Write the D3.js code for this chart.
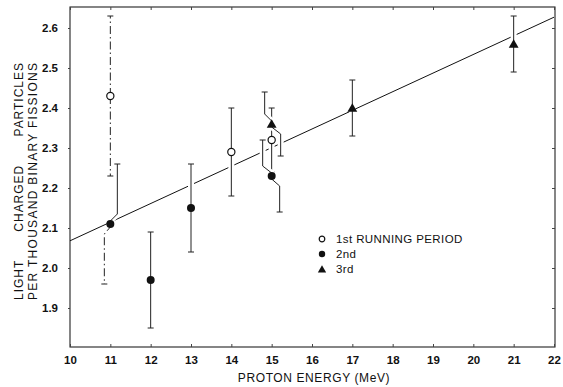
<!DOCTYPE html>
<html>
<head>
<meta charset="utf-8">
<script src="https://cdn.jsdelivr.net/npm/d3@7/dist/d3.min.js"></script>
<style>
  html, body { margin: 0; padding: 0; background: #fff; }
  text { font-family: "Liberation Sans", Arial, sans-serif; fill: #111; }
</style>
</head>
<body>
<div id="chart"></div>
<script>
// x ticks / y ticks
const energyTicks = [10, 11, 12, 13, 14, 15, 16, 17, 18, 19, 20, 21, 22];
const yieldTicks = [1.9, 2.0, 2.1, 2.2, 2.3, 2.4, 2.5, 2.6];

// 1st running period (open circles)
const energy1 = [11, 14, 15];
const yield1 = [2.43, 2.29, 2.32];
const error1 = [0.20, 0.11, 0.08];

// 2nd (filled circles)
const energy2 = [11, 12, 13, 15];
const yield2 = [2.11, 1.97, 2.15, 2.23];
const error2 = [0.15, 0.12, 0.11, 0.09];

// 3rd (triangles)
const energy3 = [15, 17, 21];
const yield3 = [2.36, 2.40, 2.56];
const error3 = [0.08, 0.07, 0.07];

// fitted line
const fitEnergy = [10, 22];
const fitYield = [2.068, 2.627];

const legendLabels = ['1st RUNNING PERIOD', '2nd', '3rd'];

// ---- layout (pixel jogs of the displaced error bars, dash styles) ----
const jogs = {
  '1-0': { up: 0, down: 0, dash: true },
  '2-0': { up: 7, down: -6, dashDown: true },
  '2-3': { up: -9, down: 8 },
  '3-0': { up: -7, down: 9 }
};

const width = 563, height = 387;
const svg = d3.select('#chart').append('svg')
  .attr('width', width)
  .attr('height', height);

const x = d3.scaleLinear().domain([10, 22]).range([70, 554]);
const y = d3.scaleLinear().domain([1.8, 2.6]).range([348, 28]);
const frame = { top: 7, bottom: 347, left: 70, right: 555 };

// frame
svg.append('rect')
  .attr('x', frame.left).attr('y', frame.top)
  .attr('width', frame.right - frame.left).attr('height', frame.bottom - frame.top)
  .attr('fill', 'none').attr('stroke', '#222').attr('stroke-width', 1.1);

// bottom axis labels
const xAxis = svg.append('g')
  .attr('transform', `translate(0, ${frame.bottom})`)
  .call(d3.axisBottom(x).tickValues(energyTicks).tickSize(-3).tickPadding(9).tickFormat(d3.format('d')));
xAxis.select('.domain').remove();
xAxis.selectAll('text').attr('font-size', 11.5).attr('font-weight', 'bold').attr('fill', '#111');
xAxis.selectAll('line').attr('stroke', '#444');

// top ticks
svg.append('g')
  .attr('transform', `translate(0, ${frame.top})`)
  .call(d3.axisTop(x).tickValues(energyTicks).tickSize(-3).tickFormat(''))
  .call(g => g.select('.domain').remove())
  .selectAll('line').attr('stroke', '#444');

// left axis
const yAxis = svg.append('g')
  .attr('transform', `translate(${frame.left}, 0)`)
  .call(d3.axisLeft(y).tickValues(yieldTicks).tickSize(4).tickPadding(8).tickFormat(d3.format('.1f')));
yAxis.select('.domain').remove();
yAxis.selectAll('text').attr('font-size', 11.5).attr('font-weight', 'bold').attr('fill', '#111');
yAxis.selectAll('line').attr('stroke', '#444').attr('stroke-dasharray', '2,2');

// right ticks
svg.append('g')
  .attr('transform', `translate(${frame.right}, 0)`)
  .call(d3.axisRight(y).tickValues(yieldTicks).tickSize(-3).tickFormat(''))
  .call(g => g.select('.domain').remove())
  .selectAll('line').attr('stroke', '#444');

// axis titles
svg.append('text')
  .attr('x', 314).attr('y', 382)
  .attr('text-anchor', 'middle')
  .attr('font-size', 12).attr('letter-spacing', 0.6)
  .text('PROTON ENERGY (MeV)');

svg.append('text')
  .attr('transform', 'translate(23, 300) rotate(-90)')
  .attr('font-size', 12).attr('word-spacing', 24)
  .attr('textLength', 237).attr('lengthAdjust', 'spacing')
  .text('LIGHT CHARGED PARTICLES');

svg.append('text')
  .attr('transform', 'translate(37, 300) rotate(-90)')
  .attr('font-size', 12)
  .attr('textLength', 237).attr('lengthAdjust', 'spacing')
  .text('PER THOUSAND BINARY FISSIONS');

// fitted line
const fitData = fitEnergy.map((e, i) => [e, fitYield[i]]);
svg.append('path')
  .datum(fitData)
  .attr('fill', 'none')
  .attr('stroke', '#111')
  .attr('stroke-width', 1)
  .attr('d', d3.line().x(d => x(d[0])).y(d => y(d[1])));

// series
const series = [
  { id: 1, energy: energy1, value: yield1, error: error1 },
  { id: 2, energy: energy2, value: yield2, error: error2 },
  { id: 3, energy: energy3, value: yield3, error: error3 }
];

function halfBar(px, py, endY, dx) {
  const p = d3.path();
  p.moveTo(px, py);
  if (dx !== 0) {
    const dir = endY < py ? -1 : 1;
    p.lineTo(px, py + dir * 3);
    p.lineTo(px + dx, py + dir * 10);
  }
  p.lineTo(px + dx, endY);
  p.moveTo(px + dx - 3, endY);
  p.lineTo(px + dx + 3, endY);
  return p.toString();
}

const bars = svg.append('g');

series.forEach(s => {
  s.energy.forEach((e, i) => {
    const j = jogs[`${s.id}-${i}`] || { up: 0, down: 0 };
    const px = x(e), py = y(s.value[i]);
    const yTop = y(s.value[i] + s.error[i]);
    const yBot = y(s.value[i] - s.error[i]);
    const halves = [[halfBar(px, py, yTop, j.up), j.dash], [halfBar(px, py, yBot, j.down), j.dash || j.dashDown]];
    halves.forEach(([d]) => {
      bars.append('path')
        .attr('d', d)
        .attr('fill', 'none')
        .attr('stroke', 'white')
        .attr('stroke-width', 6);
    });
    halves.forEach(([d, dashed]) => {
      bars.append('path')
        .attr('d', d)
        .attr('fill', 'none')
        .attr('stroke', '#222')
        .attr('stroke-width', 1)
        .attr('stroke-dasharray', dashed ? '8,3,1.5,3' : null);
    });
  });
});

// markers
const markers = svg.append('g');
function drawMarker(g, id, cx, cy, small) {
  if (id === 1) {
    g.append('circle').attr('cx', cx).attr('cy', cy).attr('r', small ? 2.8 : 3.6)
      .attr('fill', 'white').attr('stroke', '#111').attr('stroke-width', 1.2);
  } else if (id === 2) {
    g.append('circle').attr('cx', cx).attr('cy', cy).attr('r', small ? 3.2 : 4)
      .attr('fill', '#111');
  } else {
    g.append('path')
      .attr('transform', `translate(${cx}, ${cy + 1})`)
      .attr('d', d3.symbol().type(d3.symbolTriangle).size(small ? 30 : 42)())
      .attr('fill', '#111');
  }
}
series.forEach(s => {
  s.energy.forEach((e, i) => drawMarker(markers, s.id, x(e), y(s.value[i]), false));
});

// legend
const legend = svg.append('g').attr('transform', 'translate(322, 239)');
legendLabels.forEach((label, i) => {
  drawMarker(legend, i + 1, 0, i * 15, true);
  legend.append('text')
    .attr('x', 14).attr('y', i * 15 + 4)
    .attr('font-size', 11.5).attr('letter-spacing', 0.4)
    .text(label);
});
</script>
</body>
</html>
